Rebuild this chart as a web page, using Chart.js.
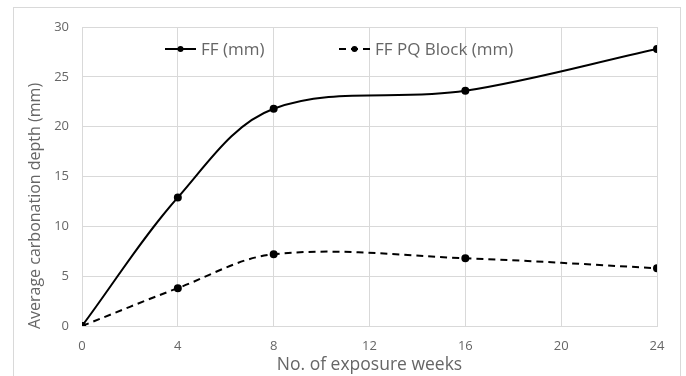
<!DOCTYPE html>
<html>
<head>
<meta charset="utf-8">
<script src="https://cdn.jsdelivr.net/npm/chart.js@4/dist/chart.umd.min.js"></script>
<style>
  body { margin: 0; background: #fff; }
  #wrap { position: relative; width: 686px; height: 376px; }
  #frame { position: absolute; left: 13px; top: 7px; width: 666px; height: 380px; border: 1px solid #d9d9d9; }
  canvas { position: absolute; left: 0; top: 0; }
</style>
</head>
<body>
<div id="wrap">
  <div id="frame"></div>
  <canvas id="myChart" width="686" height="376"></canvas>
</div>
<script>
// data
let weeks = [0, 4, 8, 16, 24];
let ff = [0, 12.9, 21.8, 23.6, 27.8];
let ffPq = [0, 3.8, 7.2, 6.8, 5.8];
let seriesNames = ['FF (mm)', 'FF PQ Block (mm)'];
let xTicks = [0, 4, 8, 12, 16, 20, 24];
let yTicks = [0, 5, 10, 15, 20, 25, 30];

let textColor = '#666666';
let gridColor = '#d9d9d9';
let fontName = '"Open Sans", Lato, sans-serif';

function toPoints(ys) {
    return weeks.map(function (w, i) { return { x: w, y: ys[i] }; });
}

// legend drawn inside the plot, Excel style (line + marker)
let lineLegend = {
    id: 'lineLegend',
    afterDraw: function (chart) {
        let c = chart.ctx;
        let starts = [165, 339];
        c.save();
        chart.data.datasets.forEach(function (ds, i) {
            let x0 = starts[i];
            let y = 49;
            c.strokeStyle = '#000';
            c.lineWidth = 2;
            c.setLineDash(ds.borderDash || []);
            c.beginPath();
            c.moveTo(x0, y);
            c.lineTo(x0 + 31, y);
            c.stroke();
            c.setLineDash([]);
            c.fillStyle = '#000';
            c.beginPath();
            c.arc(x0 + 15.5, y, 3, 0, Math.PI * 2);
            c.fill();
            c.fillStyle = textColor;
            c.font = '17px ' + fontName;
            c.textBaseline = 'middle';
            c.fillText(ds.label, x0 + 36, y + 1);
        });
        // y axis title
        c.translate(35, 206);
        c.rotate(-Math.PI / 2);
        c.font = '16px ' + fontName;
        c.textAlign = 'center';
        c.textBaseline = 'middle';
        c.fillStyle = textColor;
        c.fillText('Average carbonation depth (mm)', 0, 0);
        c.restore();
    }
};

var ctx = document.getElementById('myChart').getContext('2d');
var myChart = new Chart(ctx, {
    type: 'line',
    data: {
        datasets: [{
            label: seriesNames[0],
            data: toPoints(ff),
            borderColor: '#000',
            backgroundColor: '#000',
            borderWidth: 2,
            pointRadius: 3,
            tension: 0.35
        }, {
            label: seriesNames[1],
            data: toPoints(ffPq),
            borderColor: '#000',
            backgroundColor: '#000',
            borderWidth: 2,
            borderDash: [7, 5],
            pointRadius: 3,
            tension: 0.35
        }]
    },
    options: {
        responsive: false,
        animation: false,
        layout: { padding: { left: 0, right: 29, top: 27, bottom: 0 } },
        plugins: {
            legend: { display: false },
            tooltip: { enabled: false }
        },
        scales: {
            x: {
                type: 'linear',
                min: 0,
                max: 24,
                afterBuildTicks: function (scale) {
                    scale.ticks = xTicks.map(function (v) { return { value: v }; });
                },
                afterFit: function (scale) { scale.height = 50; },
                grid: { color: gridColor, drawTicks: false },
                border: { color: gridColor },
                ticks: { color: textColor, padding: 12, font: { family: fontName, size: 13 } },
                title: {
                    display: true,
                    text: 'No. of exposure weeks',
                    color: textColor,
                    padding: { top: 0, bottom: 0 },
                    font: { family: fontName, size: 17.5 }
                }
            },
            y: {
                min: 0,
                max: 30,
                afterBuildTicks: function (scale) {
                    scale.ticks = yTicks.map(function (v) { return { value: v }; });
                },
                afterFit: function (scale) { scale.width = 82; },
                grid: { color: gridColor, drawTicks: false },
                border: { display: false },
                ticks: { color: textColor, padding: 13, font: { family: fontName, size: 13 } }
            }
        }
    },
    plugins: [lineLegend]
});
</script>
</body>
</html>
